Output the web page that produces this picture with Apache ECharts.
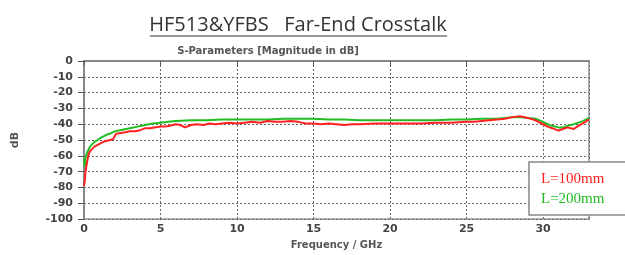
<!DOCTYPE html>
<html><head><meta charset="utf-8">
<script src="https://cdn.jsdelivr.net/npm/echarts@6/dist/echarts.min.js"></script>
<style>html,body{margin:0;padding:0;background:#fff}#c{width:625px;height:255px}</style>
</head><body><div id="c"></div>
<script>
const freq100 = [0,0.05,0.1,0.2,0.3,0.4,0.5,0.7,0.9,1.1,1.3,1.5,1.7,1.9,2.1,2.4,2.7,3,3.3,3.6,4,4.3,4.6,5,5.3,5.6,6,6.3,6.6,7,7.4,7.8,8.2,8.6,9,9.5,10,10.5,11,11.5,12,12.5,13,13.5,14,14.5,15,15.5,16,16.5,17,17.5,18,19,20,21,22,23,24,25,25.5,26,26.5,27,27.5,28,28.5,29,29.5,30,30.3,30.6,31,31.3,31.6,32,32.3,32.6,33];
const red100 = [-79,-76,-70,-64,-59,-57,-56,-54,-53,-52,-51,-50.5,-50,-49.5,-46,-45.5,-45,-44.5,-44.5,-44,-42.5,-42.5,-42,-41.5,-41.5,-41,-40,-40.5,-42,-40.5,-40,-40.5,-39.5,-40,-39.5,-39,-39.5,-39,-38.5,-39,-38,-38.5,-38.5,-38,-38.5,-39.5,-39.5,-40,-39.5,-40,-40.5,-40,-40,-39.5,-39.5,-39.5,-39.5,-39,-39,-38.5,-38.5,-38,-37.5,-37,-36.5,-35.5,-35,-36,-37.5,-40,-41.5,-42.5,-44,-43,-42,-43,-41,-39.5,-37];
const freq200 = [0,0.05,0.1,0.2,0.3,0.4,0.5,0.7,0.9,1.1,1.3,1.5,1.7,2,2.5,3,3.5,4,4.5,5,5.5,6,7,8,9,10,11,12,13,14,15,16,17,18,19,20,21,22,23,24,25,26,27,27.5,28,28.5,29,29.5,30,30.3,30.6,31,31.3,31.6,32,32.3,32.6,33];
const green200 = [-62,-67,-61,-58,-56,-54,-53,-51,-50,-48.5,-47.5,-46.5,-46,-44.5,-43.5,-42.5,-41.5,-40.5,-39.5,-39,-38.5,-38,-37.5,-37.5,-37,-37,-37,-37,-36.5,-36.5,-36.5,-37,-37,-37.5,-37.5,-37.5,-37.5,-37.5,-37.5,-37,-37,-36.5,-36.5,-36,-35.5,-35.5,-36,-36.5,-38.5,-40,-41,-42,-42,-41,-40,-39,-38,-36];
const xTicks = [0,5,10,15,20,25,30];
const yTicks = [0,-10,-20,-30,-40,-50,-60,-70,-80,-90,-100];

const chart = echarts.init(document.getElementById('c'));
const lab = {color:'#444', fontFamily:'DejaVu Sans', fontWeight:'bold', fontSize:11};
chart.setOption({
  animation:false,
  grid:{left:84, right:36, top:61, bottom:29, show:true, borderColor:'#999', borderWidth:1.5},
  xAxis:{type:'value', min:0, max:33, interval:5,
    name:'Frequency / GHz', nameLocation:'middle', nameGap:19,
    nameTextStyle:{color:'#555', fontFamily:'DejaVu Sans', fontWeight:'bold', fontSize:10},
    axisLine:{show:true, lineStyle:{color:'#888', width:2}},
    axisTick:{show:true, length:4, lineStyle:{color:'#555'}},
    axisLabel:Object.assign({margin:5, showMaxLabel:false, formatter:v=>xTicks.includes(v)?String(v):''}, lab),
    splitLine:{show:true, lineStyle:{color:'#666', type:[2,2], width:1}}},
  yAxis:{type:'value', min:-100, max:0, interval:10,
    name:'dB', nameLocation:'middle', nameGap:63, nameRotate:90,
    nameTextStyle:{color:'#555', fontFamily:'DejaVu Sans', fontWeight:'bold', fontSize:11},
    axisLine:{show:true, lineStyle:{color:'#888', width:2}},
    axisTick:{show:true, length:6, lineStyle:{color:'#555'}},
    axisLabel:Object.assign({margin:11, formatter:v=>yTicks.includes(v)?String(v):''}, lab),
    splitLine:{show:true, lineStyle:{color:'#666', type:[2,2], width:1}}},
  series:[
    {name:'L=200mm', type:'line', showSymbol:false, data:freq200.map((f,i)=>[f,green200[i]]), lineStyle:{color:'#22bb22', width:2}, z:2},
    {name:'L=100mm', type:'line', showSymbol:false, data:freq100.map((f,i)=>[f,red100[i]]), lineStyle:{color:'#ff2020', width:2}, z:3}
  ],
  graphic:[
    {type:'text', x:298, y:15, style:{text:'HF513&YFBS   Far-End Crosstalk', fill:'#333', font:'20px "Open Sans"', align:'center'}},
    {type:'line', shape:{x1:150,y1:36,x2:447,y2:36}, style:{stroke:'#333', lineWidth:1.2}},
    {type:'text', x:268, y:51, style:{text:'S-Parameters [Magnitude in dB]', fill:'#555', font:'bold 10px "DejaVu Sans"', align:'center', verticalAlign:'middle'}},
    {type:'rect', shape:{x:529,y:162,width:100,height:53}, style:{fill:'#fff', stroke:'#888', lineWidth:1.5}, z:10},
    {type:'text', x:541, y:179, style:{text:'L=100mm', fill:'#ff2020', font:'15px "Liberation Serif"', verticalAlign:'middle'}, z:11},
    {type:'text', x:541, y:199, style:{text:'L=200mm', fill:'#22bb22', font:'15px "Liberation Serif"', verticalAlign:'middle'}, z:11}
  ]
});
</script></body></html>
